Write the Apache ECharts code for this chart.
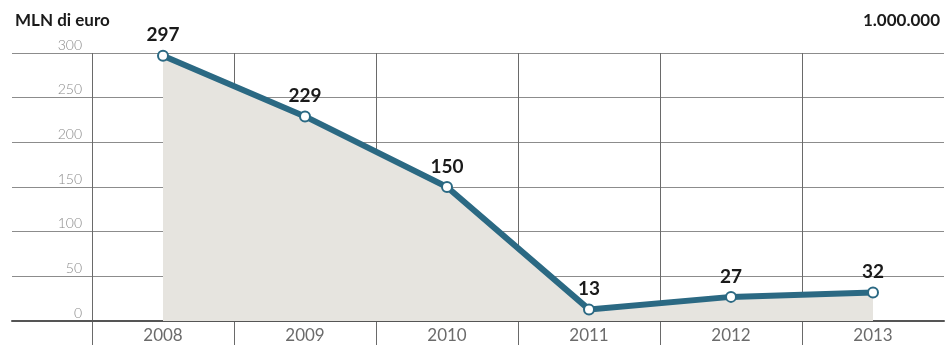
<!DOCTYPE html>
<html>
<head>
<meta charset="utf-8">
<script src="https://cdn.jsdelivr.net/npm/echarts@6/dist/echarts.min.js"></script>
<style>
  html, body { margin: 0; padding: 0; background: #fff; }
  #chart { width: 949px; height: 345px; }
</style>
</head>
<body>
<div id="chart"></div>
<script>
  // dati
  var years = ['2008', '2009', '2010', '2011', '2012', '2013'];
  var values = [297, 229, 150, 13, 27, 32];
  var yTicks = [0, 50, 100, 150, 200, 250, 300];

  var lineColor = '#2b6983';
  var fontName = 'Lato';

  var myChart = echarts.init(document.getElementById('chart'));
  var option = {
    backgroundColor: '#fff',
    animation: false,
    title: [
      { text: 'MLN di euro', left: 10, top: 7,
        textStyle: { fontFamily: fontName, fontSize: 17, fontWeight: 'bold', color: '#1a1a1a' } },
      { text: '1.000.000', right: 4, top: 7,
        textStyle: { fontFamily: fontName, fontSize: 17, fontWeight: 'bold', color: '#1a1a1a' } }
    ],
    grid: [
      // linee orizzontali lunghe
      { left: 12, right: 5, top: 53, bottom: 24 },
      // serie
      { left: 92, right: 5, top: 53, bottom: 24 },
      // linee verticali fino in fondo
      { left: 92, right: 5, top: 53, bottom: 0 }
    ],
    xAxis: [
      { gridIndex: 0, type: 'value', min: 0, max: 1, show: true,
        axisLabel: { show: false }, axisTick: { show: false }, splitLine: { show: false },
        axisLine: { show: true, lineStyle: { color: '#555', width: 2 } } },
      { gridIndex: 1, type: 'category', data: years, boundaryGap: true,
        axisLine: { show: false }, axisTick: { show: false }, splitLine: { show: false },
        axisLabel: { margin: 6, fontFamily: fontName, fontSize: 17, color: '#6b6b6b' } },
      { gridIndex: 2, type: 'value', min: 0, max: years.length, interval: 1,
        axisLine: { show: false }, axisTick: { show: false }, axisLabel: { show: false },
        splitLine: { show: true, showMinLine: true, showMaxLine: false,
          lineStyle: { color: '#6a6a6a', width: 1 } } }
    ],
    yAxis: [
      { gridIndex: 0, type: 'value', min: 0, max: 300, interval: 50,
        axisLabel: { show: false }, axisLine: { show: false }, axisTick: { show: false },
        splitLine: { show: true, lineStyle: { color: '#8c8c8c', width: 1 } } },
      { gridIndex: 1, type: 'value', min: 0, max: 300, interval: 50,
        axisLine: { show: false }, axisTick: { show: false }, splitLine: { show: false },
        axisLabel: { margin: 10, verticalAlign: 'bottom', fontFamily: fontName, fontSize: 14,
          fontWeight: 300, color: '#8a8a8a', padding: [0, 0, 1, 0],
          formatter: function (v) { return yTicks.indexOf(v) >= 0 ? String(v) : ''; } } },
      { gridIndex: 2, type: 'value', show: false }
    ],
    series: [
      {
        type: 'line',
        xAxisIndex: 1,
        yAxisIndex: 1,
        data: values,
        symbol: 'circle',
        symbolSize: 10,
        lineStyle: { color: lineColor, width: 6 },
        itemStyle: { color: '#fff', borderColor: lineColor, borderWidth: 2 },
        areaStyle: { color: '#e6e4df', opacity: 1 },
        label: { show: true, position: 'top', distance: 5,
          fontFamily: fontName, fontSize: 19, fontWeight: 'bold', color: '#1a1a1a' },
        z: 3
      }
    ]
  };
  myChart.setOption(option);
</script>
</body>
</html>
